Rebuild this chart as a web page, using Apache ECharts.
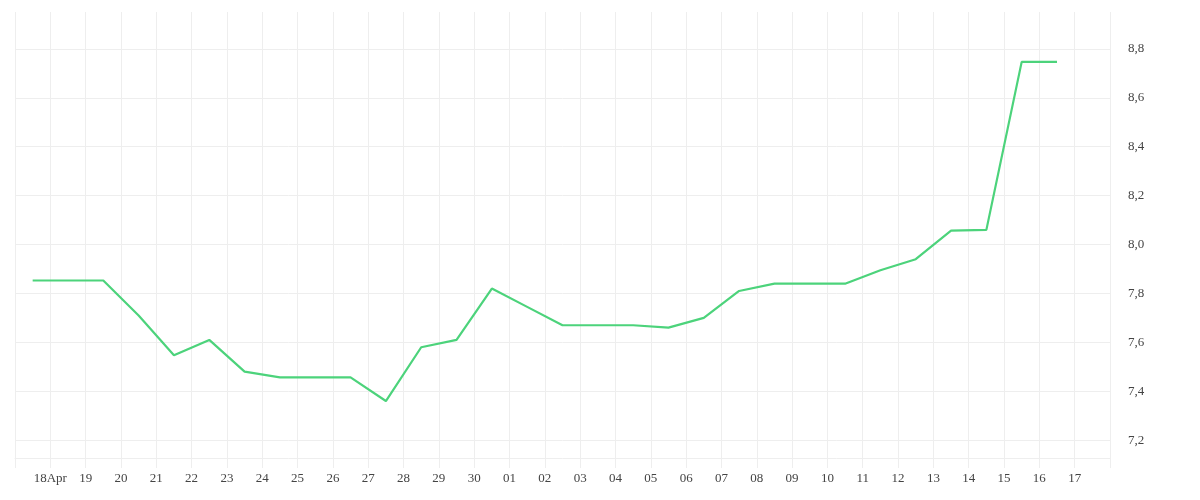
<!DOCTYPE html>
<html>
<head>
<meta charset="utf-8">
<script src="https://cdn.jsdelivr.net/npm/echarts@6/dist/echarts.min.js"></script>
<style>html,body{margin:0;padding:0;background:#fff}</style>
</head>
<body>
<div id="chart" style="width:1200px;height:500px"></div>
<script>
const dayLabels = ['18Apr','19','20','21','22','23','24','25','26','27','28','29','30','01','02','03','04','05','06','07','08','09','10','11','12','13','14','15','16','17'];
const values = [7.853,7.853,7.853,7.71,7.547,7.61,7.48,7.457,7.457,7.457,7.36,7.58,7.61,7.82,7.745,7.67,7.67,7.67,7.66,7.70,7.81,7.84,7.84,7.84,7.895,7.94,8.057,8.06,8.747,8.747];
const yTicks = [7.2,7.4,7.6,7.8,8.0,8.2,8.4,8.6,8.8];

// points sit half a day before each label line
const points = values.map((v, i) => [i + 0.5, v]);

const chart = echarts.init(document.getElementById('chart'));
const font = 'Liberation Serif';
chart.setOption({
  animation: false,
  grid: { left: 15, right: 90, top: 12, bottom: 42 },
  xAxis: {
    type: 'value', min: 0, max: 31, interval: 1,
    axisLine: { show: true, lineStyle: { color: '#eeeeee' } },
    axisTick: { show: true, length: 10, lineStyle: { color: '#eeeeee' } },
    splitLine: { show: true, lineStyle: { color: '#eeeeee' } },
    axisLabel: {
      color: '#444', fontFamily: font, fontSize: 13, margin: 14,
      formatter: v => (v >= 1 && v <= 30) ? dayLabels[v - 1] : ''
    }
  },
  yAxis: {
    type: 'value', position: 'right', min: 7.127, max: 8.951,
    axisLine: { show: false },
    axisTick: { show: false, customValues: yTicks },
    splitLine: { show: true, lineStyle: { color: '#eeeeee' } },
    axisLabel: {
      customValues: yTicks, color: '#444', fontFamily: font, fontSize: 13, margin: 18,
      formatter: v => v.toFixed(1).replace('.', ',')
    }
  },
  series: [{
    type: 'line', data: points, symbol: 'none',
    lineStyle: { color: '#4cd37b', width: 2.2 }
  }]
});
</script>
</body>
</html>
